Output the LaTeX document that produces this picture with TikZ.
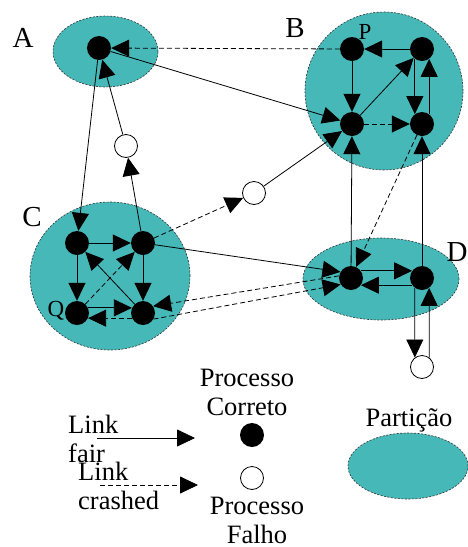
\documentclass[tikz,border=0pt]{standalone}
\usepackage{fontspec}
\setmainfont{Liberation Serif}
\usetikzlibrary{arrows.meta, positioning}
\definecolor{partteal}{RGB}{70, 184, 184}

\begin{document}
\begin{tikzpicture}[x=1pt, y=-1pt,
    every node/.style={font=\fontsize{26.5}{29}\selectfont},
    part/.style={draw=black!80, fill=partteal, dash pattern=on 2pt off 1.5pt, line width=0.6pt},
    proc/.style={circle, fill=black, minimum size=24pt, inner sep=0pt},
    falho/.style={circle, draw=black, fill=white, line width=0.8pt, minimum size=23pt, inner sep=0pt},
    fair/.style={-{Triangle[length=18pt, width=17pt]}, line width=0.8pt},
    crash/.style={fair, dash pattern=on 5pt off 3pt},
    lbl/.style={inner sep=0pt},
    biglbl/.style={lbl, anchor=base, font=\fontsize{29}{30}\selectfont}]
  \useasboundingbox (0,0) rectangle (467,547);

  % particoes
  \draw[part] (105.5,51.5) ellipse [x radius=52.5pt, y radius=35.5pt];
  \draw[part] (384,91) circle [radius=79pt];
  \draw[part] (110,276) ellipse [x radius=80pt, y radius=74pt];
  \draw[part] (381,279) ellipse [x radius=78pt, y radius=41pt];

  \node[biglbl] (labA) at (23,47) {A};
  \node[biglbl] (labB) at (295,37) {B};
  \node[biglbl] (labC) at (32,226) {C};
  \node[biglbl] (labD) at (457,261) {D};

  % processos
  \node[proc] (a1) at (99,48) {};
  \node[proc] (p) at (352,49) {};
  \node[proc] (b2) at (422,49) {};
  \node[proc] (b3) at (352,124) {};
  \node[proc] (b4) at (422,124) {};
  \node[proc] (c1) at (77,243) {};
  \node[proc] (c2) at (143,243) {};
  \node[proc] (q) at (77,313) {};
  \node[proc] (c4) at (143,313) {};
  \node[proc] (d1) at (351,278) {};
  \node[proc] (d2) at (422,278) {};
  \node[falho] (f1) at (126,146) {};
  \node[falho] (f2) at (254,193) {};
  \node[falho] (f3) at (422,367) {};

  \node[lbl, anchor=base, font=\fontsize{23}{24}\selectfont] (labP) at (365,39) {P};
  \node[lbl, anchor=base, font=\fontsize{23}{24}\selectfont] (labQ) at (56,316) {Q};

  % links da particao A
  \draw[crash] (p) -- (a1);
  \draw[fair] (a1) -- (b3);
  \draw[fair] (a1) -- (c1);
  \draw[fair] (f1) -- (a1);

  % links da particao B
  \draw[fair] (b2) -- (p);
  \draw[fair] (p) -- (b3);
  \draw[fair] (b3) -- (b2);
  \draw[crash] (b3) -- (b4);
  \draw[fair] (b2.234) -- (b4.126);
  \draw[fair] (b4.54) -- (b2.306);
  \draw[fair] (f2) -- (b3);
  \draw[fair] (d1) -- (b3);
  \draw[fair] (d2) -- (b4);
  \draw[crash] (b4) -- (d1);

  % links da particao C
  \draw[fair] (c1) -- (c2);
  \draw[fair] (c1) -- (q);
  \draw[fair] (c2) -- (c4);
  \draw[fair] (c4) -- (c1);
  \draw[crash] (q) -- (c2);
  \draw[fair] (q.25) -- (c4.155);
  \draw[crash] (c4.205) -- (q.335);
  \draw[fair] (c2) -- (f1);
  \draw[crash] (c2) -- (f2);
  \draw[fair] (c2) -- (d1.150);
  \draw[crash] (d1.170) -- (c4.34);
  \draw[crash] (c4.-30) -- (d1.212);

  % links da particao D
  \draw[fair] (d1.36) -- (d2.144);
  \draw[fair] (d2.216) -- (d1.324);
  \draw[fair] (d2.234) -- (f3.127);
  \draw[fair] (f3.53) -- (d2.306);

  % legenda
  \coordinate (fairS) at (97,438);
  \coordinate (fairE) at (195,438);
  \draw[fair] (fairS) -- (fairE);
  \coordinate (crashS) at (100,485);
  \coordinate (crashE) at (198,485);
  \draw[crash] (crashS) -- (crashE);
  \node[lbl, align=left, anchor=north west] (txtFair) at (68,415) {Link\\fair};
  \node[lbl, align=left, anchor=north west] (txtCrash) at (78,462) {Link\\crashed};

  \node[proc] (legProc) at (252,435) {};
  \node[falho] (legFalho) at (252,478) {};
  \node[lbl, align=center, anchor=north] (txtCorreto) at (247,368.5) {Processo\\Correto};
  \node[lbl, align=center, anchor=north] (txtFalho) at (257,497) {Processo\\Falho};

  \node[lbl, anchor=base] (txtPart) at (409,426) {Partição};
  \draw[part] (408,466) ellipse [x radius=60pt, y radius=33pt];
\end{tikzpicture}
\end{document}
